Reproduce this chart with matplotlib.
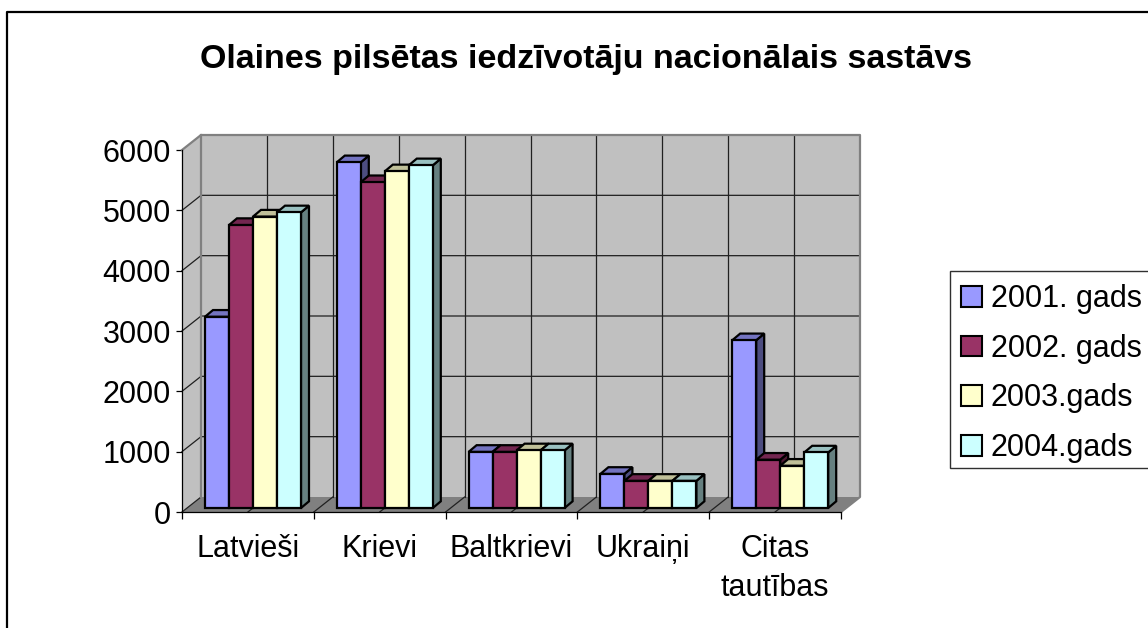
import numpy as np
import matplotlib
matplotlib.use('Agg')
import matplotlib.pyplot as plt
from matplotlib.lines import Line2D
from matplotlib.patches import Patch, Polygon, Rectangle

categories = ['Latvieši', 'Krievi', 'Baltkrievi', 'Ukraiņi', 'Citas\ntautības']
series_names = ['2001. gads', '2002. gads', '2003.gads', '2004.gads']
y2001 = [3170, 5730, 930, 565, 2780]
y2002 = [4690, 5400, 930, 450, 800]
y2003 = [4830, 5580, 955, 450, 700]
y2004 = [4900, 5680, 955, 450, 920]
yticks = [0, 1000, 2000, 3000, 4000, 5000, 6000]
title = 'Olaines pilsētas iedzīvotāju nacionālais sastāvs'

front_colors = ['#9999FF', '#993366', '#FFFFCC', '#CCFFFF']
top_colors = ['#7373C0', '#732650', '#C0C099', '#99C0C0']
side_colors = ['#4D4D80', '#4D1A33', '#808066', '#668080']

plt.rcParams['font.family'] = ['Liberation Sans', 'DejaVu Sans']

W, H = 1148, 628
fig = plt.figure(figsize=(W / 100, H / 100), dpi=100)
ax = fig.add_axes([182 / W, (H - 512) / H, 659 / W, 362 / H])
ax.set_xlim(0, 5)
ax.set_ylim(0, 6000)
ax.patch.set_alpha(0)

# pixels to data units, the depth of the 3d box is done with offsets
xpx = 5 / 659
ypx = 6000 / 362
box_dx, box_dy = 19 * xpx, 15 * ypx
front_dx, front_dy = 5 * xpx, 4 * ypx
back_dx, back_dy = 13 * xpx, 10.7 * ypx

# walls and floor
wall = '#C0C0C0'
edge = '#808080'
ax.add_patch(Polygon([(0, 0), (0, 6000), (box_dx, 6000 + box_dy), (box_dx, box_dy)],
                     fc=wall, ec='none', clip_on=False, zorder=1))
ax.add_patch(Polygon([(box_dx, box_dy), (box_dx, 6000 + box_dy),
                      (5 + box_dx, 6000 + box_dy), (5 + box_dx, box_dy)],
                     fc=wall, ec='none', clip_on=False, zorder=1))
ax.add_patch(Polygon([(0, 0), (5, 0), (5 + box_dx, box_dy), (box_dx, box_dy)],
                     fc=edge, ec='none', clip_on=False, zorder=1))

# grid
grid = '#202020'
for v in yticks[1:-1]:
    ax.plot([0, box_dx, 5 + box_dx], [v, v + box_dy, v + box_dy], color=grid, lw=0.9,
            clip_on=False, zorder=1.5)
ax.plot([0, box_dx], [0, box_dy], color=grid, lw=0.9, clip_on=False, zorder=1.5)
for x in np.arange(0.5, 5, 0.5):
    ax.plot([x + box_dx, x + box_dx], [box_dy, 6000 + box_dy], color=grid, lw=0.9,
            clip_on=False, zorder=1.5)
    ax.plot([x, x + box_dx], [0, box_dy], color=grid, lw=0.9, clip_on=False, zorder=1.5)

# wall outlines
ax.plot([0, box_dx, 5 + box_dx, 5 + box_dx, 5], [6000, 6000 + box_dy, 6000 + box_dy, box_dy, 0],
        color=edge, lw=1.6, clip_on=False, zorder=1.7)
ax.plot([box_dx, box_dx], [box_dy, 6000 + box_dy], color=edge, lw=1.6, clip_on=False, zorder=1.7)

# bars, left to right so each one covers the side of the one before
bar_w = 24 * xpx
start = 18 * xpx
series = [y2001, y2002, y2003, y2004]
z = 2.0
for c in range(len(categories)):
    for s, vals in enumerate(series):
        v = vals[c]
        x0 = c + start + s * bar_w + front_dx
        x1 = x0 + bar_w
        b = front_dy
        t = v + front_dy
        ddx = back_dx - front_dx
        ddy = back_dy - front_dy
        ax.add_patch(Polygon([(x1, b), (x1, t), (x1 + ddx, t + ddy), (x1 + ddx, b + ddy)],
                             fc=side_colors[s], ec='black', lw=1.6, clip_on=False, zorder=z,
                             joinstyle='miter'))
        ax.add_patch(Polygon([(x0, t), (x1, t), (x1 + ddx, t + ddy), (x0 + ddx, t + ddy)],
                             fc=top_colors[s], ec='black', lw=1.6, clip_on=False, zorder=z,
                             joinstyle='miter'))
        ax.bar(x0, v, bar_w, bottom=b, align='edge', color=front_colors[s], edgecolor='black',
               linewidth=1.6, zorder=z + 0.01, clip_on=False)
        z += 0.02

ax.set_xlim(0, 5)
ax.set_ylim(0, 6000)

# axes
for side in ['top', 'right']:
    ax.spines[side].set_visible(False)
for side in ['left', 'bottom']:
    ax.spines[side].set_linewidth(0.9)
ax.set_yticks(yticks)
ax.set_xticks(np.arange(0, 6))
ax.set_xticklabels([])
ax.set_xticks(np.arange(0.5, 5), categories, minor=True)
ax.tick_params(axis='x', which='major', length=5, width=0.9)
ax.tick_params(axis='x', which='minor', length=0, pad=15.5, labelsize=22)
ax.tick_params(axis='y', length=4.5, width=0.9, pad=3.5, labelsize=22)
for lab in ax.get_xticklabels(minor=True):
    lab.set_linespacing(1.42)

fig.text(586 / W, 1 - 59.5 / H, title, fontsize=24.5, fontweight='bold', ha='center', va='center')

# legend box drawn by hand, the legend's own frame comes out too tall
fig.add_artist(Rectangle((950 / W, 1 - 468 / H), 200 / W, 197 / H, transform=fig.transFigure,
                         fc='white', ec='#303030', lw=1))
handles = [Patch(fc=front_colors[i], ec='black', lw=1.5, label=series_names[i]) for i in range(4)]
leg = fig.legend(handles=handles, loc='upper left', bbox_to_anchor=(948.5 / W, 1 - 271.5 / H),
                 fontsize=22, frameon=False,
                 handlelength=0.66, handleheight=0.66, handletextpad=0.3,
                 labelspacing=0.64, borderpad=0.42, borderaxespad=0)

# chart frame, runs off the picture on the right and at the bottom
fig.add_artist(Line2D([7 / W, 7 / W, 1], [0, 1 - 12 / H, 1 - 12 / H], color='black', lw=1.6))

fig.savefig('out.png', dpi=100)
